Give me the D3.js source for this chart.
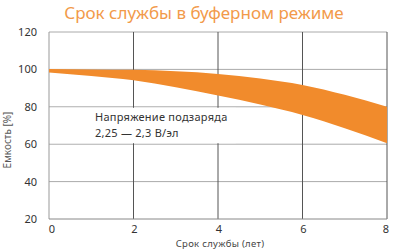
<!DOCTYPE html>
<html><head><meta charset="utf-8">
<script src="https://cdn.jsdelivr.net/npm/d3@7/dist/d3.min.js"></script>
<style>body{margin:0;background:#fff}svg{display:block}text{font-family:"Noto Sans",sans-serif}</style>
</head><body>
<script>
const years = [0,1,2,3,4,5,6,7,8];
const upper = [100.2,100,99.8,99,97.6,95.2,91.7,86.4,80];
const lower = [98.4,96.5,94.2,90.5,86,81.2,75.6,68.5,60.5];
const xTicks = [0,2,4,6,8];
const yTicks = [20,40,60,80,100,120];
const title = "Срок службы в буферном режиме";
const xTitle = "Срок службы (лет)";
const yTitle = "Емкость [%]";
const note = ["Напряжение подзаряда","2,25 — 2,3 В/эл"];

const W=400,H=252;
const svg=d3.select("body").append("svg").attr("width",W).attr("height",H);
const x=d3.scaleLinear().domain([0,8]).range([49,387]);
const y=d3.scaleLinear().domain([20,120]).range([219,32]);

svg.append("g").selectAll("line").data(yTicks.filter(d=>d>20)).join("line")
 .attr("x1",x(0)).attr("x2",x(8)).attr("y1",d=>y(d)).attr("y2",d=>y(d))
 .attr("stroke","#aaa").attr("stroke-width",1);
svg.append("g").selectAll("line").data(xTicks.filter(d=>d>0)).join("line")
 .attr("x1",d=>x(d)).attr("x2",d=>x(d)).attr("y1",y(120)).attr("y2",y(20))
 .attr("stroke","#555").attr("stroke-width",1);
svg.append("line").attr("x1",x(0)).attr("x2",x(0)).attr("y1",y(120)).attr("y2",y(20)).attr("stroke","#999");
svg.append("line").attr("x1",x(0)).attr("x2",x(8)).attr("y1",y(20)).attr("y2",y(20)).attr("stroke","#888");

svg.append("rect").attr("x",x(0)+1).attr("y",y(80)+1).attr("width",x(4.4)-x(0)).attr("height",y(60)-y(80)-2).attr("fill","#fff");

const data=years.map((d,i)=>({x:d,u:upper[i],l:lower[i]}));
svg.append("path").datum(data)
 .attr("d",d3.area().x(d=>x(d.x)).y0(d=>y(d.l)).y1(d=>y(d.u)).curve(d3.curveMonotoneX))
 .attr("fill","#F18B2C");

svg.append("g").selectAll("text").data(yTicks).join("text")
 .attr("x",37).attr("y",d=>y(d)+4).attr("text-anchor","end")
 .attr("font-size",11).attr("fill","#333").text(d=>d);
svg.append("g").selectAll("text").data(xTicks).join("text")
 .attr("x",(d,i)=>x(d)+(i===0?3:(i===4?-1:1))).attr("y",233).attr("text-anchor","middle")
 .attr("font-size",11).attr("fill","#333").text(d=>d);

svg.append("text").attr("x",204).attr("y",19).attr("text-anchor","middle")
 .attr("font-size",17).attr("fill","#F29A4A").text(title);
svg.append("text").attr("x",220).attr("y",247).attr("text-anchor","middle")
 .attr("font-size",9.5).attr("letter-spacing",0.3).attr("fill","#444").text(xTitle);
svg.append("text").attr("transform","translate(11,140) rotate(-90)").attr("text-anchor","middle")
 .attr("font-size",10).attr("fill","#555").text(yTitle);

svg.append("g").selectAll("text").data(note).join("text")
 .attr("x",95).attr("y",(d,i)=>121+i*15.5)
 .attr("font-size",11).attr("letter-spacing",0.25).attr("fill","#333").text(d=>d);
</script>
</body></html>
